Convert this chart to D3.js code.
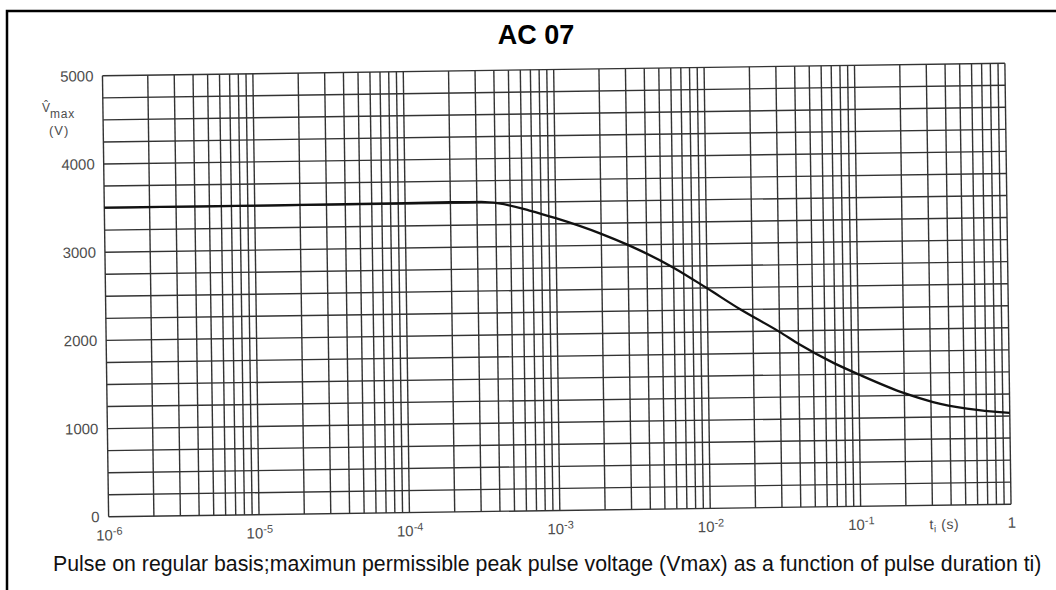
<!DOCTYPE html>
<html><head><meta charset="utf-8">
<script src="https://cdn.jsdelivr.net/npm/d3@7"></script>
<style>body{margin:0;background:#fff} svg{display:block}</style>
</head><body><svg id="c" width="1056" height="590"></svg>
<script>
const title = "AC 07";
const caption = "Pulse on regular basis;maximun permissible peak pulse voltage (Vmax) as a function of pulse duration ti)";
const pulseDuration = [1e-6, 1e-5, 1e-4, 2e-4, 3.2e-4, 4.2e-4, 6.7e-4, 1e-3, 2e-3, 3e-3, 6e-3, 1e-2, 1.64e-2, 3e-2, 4.1e-2, 6.8e-2, 0.1, 0.2, 0.31, 0.52, 1];
const peakVoltage = [3505, 3505, 3510, 3512, 3510, 3490, 3405, 3315, 3130, 3000, 2735, 2495, 2255, 1990, 1840, 1630, 1495, 1275, 1170, 1090, 1035];
const yTickValues = [0, 1000, 2000, 3000, 4000, 5000];
const yGridStep = 250;
const xTickValues = [1e-6, 1e-5, 1e-4, 1e-3, 1e-2, 1e-1, 1];
const xTickExponents = ["-6", "-5", "-4", "-3", "-2", "-1", null];
const xEndLabel = "1";
const xAxisTitle = ["t", "i", " (s)"];
const yAxisTitle = ["V\u0302", "max", "(V)"];

const svg = d3.select("#c");
const FONT = "'Liberation Sans', Arial, Helvetica, sans-serif";
const L = 105.5, R = 1008, T = 69.5, B = 510.5;
const labelColor = "#4d4d4d";

// figure border (left/top visible)
svg.append("rect").attr("x", 7).attr("y", 11).attr("width", 1200).attr("height", 800)
  .attr("fill", "none").attr("stroke", "#000").attr("stroke-width", 2.5);

svg.append("text").attr("x", 536).attr("y", 44).attr("text-anchor", "middle")
  .attr("font-family", FONT).attr("font-weight", "bold").attr("font-size", 27).text(title);

const cap = svg.append("text").attr("x", 53).attr("y", 571)
  .attr("font-family", FONT).attr("font-size", 18).attr("fill", "#111").text(caption);
const capLen = cap.node().getComputedTextLength();
cap.attr("font-size", 18 * 989 / capLen);

const x = d3.scaleLog().domain([1e-6, 1]).range([L, R]);
const y = d3.scaleLinear().domain([0, 5000]).range([B, T]);

const g = svg.append("g").attr("transform", `rotate(-0.8, ${(L + R) / 2}, ${(T + B) / 2})`);

const gridColor = "#333";
// horizontal grid
g.append("g").selectAll("line").data(d3.range(0, 5000 + 1, yGridStep)).join("line")
  .attr("x1", L).attr("x2", R).attr("y1", d => y(d)).attr("y2", d => y(d))
  .attr("stroke", gridColor).attr("stroke-width", 1.4);
// vertical grid
g.append("g").selectAll("line").data(x.ticks()).join("line")
  .attr("x1", d => x(d)).attr("x2", d => x(d)).attr("y1", T).attr("y2", B)
  .attr("stroke", gridColor).attr("stroke-width", 1.4);

// y tick labels
const ya = g.append("g").attr("transform", `translate(${L},0)`)
  .call(d3.axisLeft(y).tickValues(yTickValues).tickSize(0).tickPadding(9).tickFormat(d3.format("d")));
ya.select(".domain").remove();
ya.selectAll("text").attr("font-family", FONT).attr("font-size", 15).attr("fill", labelColor);

// x tick labels
const xa = g.append("g").attr("transform", `translate(0,${B})`)
  .call(d3.axisBottom(x).tickValues(xTickValues).tickSize(0).tickPadding(13).tickFormat(""));
xa.select(".domain").remove();
xa.selectAll("text").attr("font-family", FONT).attr("font-size", 15).attr("fill", labelColor)
  .each(function (d, i) {
    const t = d3.select(this);
    if (xTickExponents[i] === null) { t.text(xEndLabel); return; }
    t.text("10");
    t.append("tspan").attr("font-size", 11).attr("dy", "-0.5em").text(xTickExponents[i]);
  });

// x axis title
const xt = g.append("text").attr("x", 926).attr("y", B + 24)
  .attr("font-family", FONT).attr("font-size", 14).attr("letter-spacing", 0.6).attr("fill", labelColor);
xt.append("tspan").text(xAxisTitle[0]);
xt.append("tspan").attr("font-size", 10).attr("dy", 3).text(xAxisTitle[1]);
xt.append("tspan").attr("dy", -3).text(xAxisTitle[2]);

// curve
const line = d3.line().x(d => x(d[0])).y(d => y(d[1])).curve(d3.curveMonotoneX);
g.append("path").datum(pulseDuration.map((t, i) => [t, peakVoltage[i]]))
  .attr("d", line).attr("fill", "none").attr("stroke", "#111").attr("stroke-width", 2.3);

// y axis title
const yt = svg.append("text").attr("x", 42).attr("y", 112).attr("font-family", FONT)
  .attr("font-size", 12).attr("fill", labelColor);
yt.append("tspan").text(yAxisTitle[0]);
yt.append("tspan").attr("dy", 6).attr("letter-spacing", 0.8).text(yAxisTitle[1]);
svg.append("text").attr("x", 49).attr("y", 135).attr("font-family", FONT)
  .attr("font-size", 13).attr("letter-spacing", 1).attr("fill", labelColor).text(yAxisTitle[2]);
</script></body></html>
